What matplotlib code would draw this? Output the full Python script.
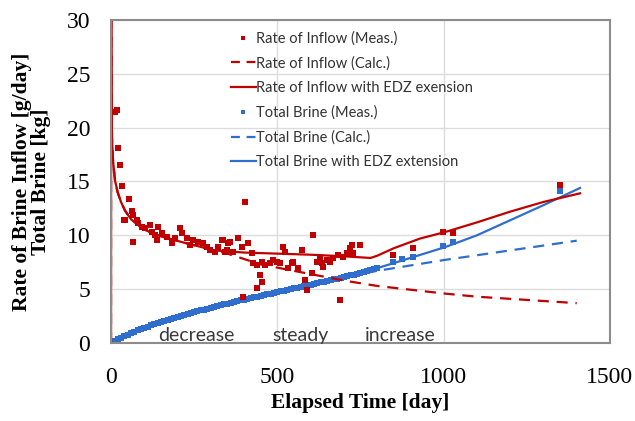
import matplotlib.pyplot as plt
from matplotlib.lines import Line2D

RED = "#C00000"
BLUE = "#2F6ECC"

# measured inflow rate [g/day]
inflow_meas_t = [12, 18, 21, 27, 33, 39, 42, 54, 63, 66, 66, 78, 81, 93, 102, 117,
                 123, 132, 138, 141, 153, 168, 183, 192, 207, 213, 228, 237, 246,
                 261, 276, 289, 298, 313, 322, 334, 337, 343, 349, 352, 358, 367,
                 382, 394, 397, 403, 412, 424, 427, 439, 439, 448, 454, 454, 463,
                 478, 487, 499, 508, 517, 523, 532, 544, 547, 562, 574, 583, 589,
                 604, 607, 619, 628, 634, 637, 649, 658, 667, 682, 688, 697, 709,
                 718, 724, 727, 748, 848, 908, 998, 1028, 1350]
inflow_meas_y = [21.5, 21.6, 18.1, 16.5, 14.6, 11.4, 11.4, 13.4, 12.3, 11.9, 9.4,
                 11.4, 11.1, 10.8, 10.7, 11.0, 10.3, 10.0, 9.6, 10.8, 10.2, 9.85,
                 9.3, 9.75, 10.7, 10.2, 9.75, 9.1, 9.6, 9.4, 9.3, 8.9, 8.6, 8.45,
                 8.9, 9.6, 9.6, 8.45, 8.6, 9.3, 9.4, 8.45, 9.75, 8.9, 4.3, 13.1,
                 9.3, 8.35, 7.4, 7.25, 5.1, 6.3, 7.5, 5.7, 7.25, 7.4, 7.7, 7.5, 7.4,
                 8.9, 8.45, 7.0, 7.4, 7.5, 7.0, 8.6, 5.85, 4.9, 6.5, 10.0, 7.5, 7.9,
                 7.4, 7.05, 7.7, 7.5, 7.9, 8.2, 4.0, 8.0, 8.35, 8.8, 9.1, 8.35, 9.1,
                 8.2, 8.8, 10.3, 10.2, 14.7]

# calculated inflow rate
inflow_calc_t = [0, 0.5, 1, 2, 3, 6, 12, 20, 30, 42, 60, 80, 102, 150, 222, 300,
                 350, 400, 450, 500, 600, 700, 800, 900, 1000, 1100, 1200, 1300, 1400]
inflow_calc_y = [0, 40, 28, 22, 19, 17, 15.1, 14.0, 13.1, 12.3, 11.5, 11.0, 10.5,
                 9.9, 9.3, 8.7, 8.3, 7.8, 7.3, 7.0, 6.4, 5.8, 5.3, 4.95, 4.6, 4.3,
                 4.1, 3.9, 3.7]

# inflow rate with EDZ extension
inflow_edz_t = [0, 0.5, 1, 2, 3, 6, 12, 20, 30, 42, 60, 80, 102, 150, 222, 312,
                400, 500, 600, 700, 780, 800, 850, 929, 1004, 1100, 1200, 1300, 1410]
inflow_edz_y = [0, 40, 28, 22, 19, 17, 15.1, 14.0, 13.1, 12.3, 11.5, 11.0, 10.5,
                9.9, 9.3, 8.6, 8.4, 8.3, 8.2, 8.05, 7.9, 8.1, 8.8, 9.7, 10.3, 11.2,
                12.2, 13.1, 13.9]

# measured total brine [kg], read every ~10 days along the dense band
brine_meas_t = [0, 10, 20, 30, 40, 50, 60, 70, 80, 90, 100, 110, 120, 130, 140,
                150, 160, 170, 180, 190, 200, 210, 220, 230, 240, 250, 260, 270,
                280, 290, 300, 310, 320, 330, 340, 350, 360, 370, 380, 390, 400,
                410, 420, 430, 440, 450, 460, 470, 480, 490, 500, 510, 520, 530,
                540, 550, 560, 570, 580, 590, 600, 610, 620, 630, 640, 650, 660,
                670, 680, 690, 700, 710, 720, 730, 740, 750, 760, 770, 780, 790,
                800, 848, 875, 908, 998, 1028, 1350]
brine_meas_y = [0, 0.18, 0.35, 0.5, 0.65, 0.78, 0.92, 1.05, 1.18, 1.3, 1.42, 1.53,
                1.64, 1.75, 1.85, 1.95, 2.04, 2.13, 2.22, 2.31, 2.4, 2.49, 2.58,
                2.67, 2.76, 2.85, 2.94, 3.02, 3.1, 3.18, 3.26, 3.34, 3.42, 3.5,
                3.58, 3.66, 3.74, 3.81, 3.88, 3.95, 4.02, 4.09, 4.16, 4.23, 4.3,
                4.37, 4.44, 4.51, 4.58, 4.65, 4.72, 4.79, 4.86, 4.93, 5.0, 5.07,
                5.14, 5.21, 5.28, 5.35, 5.42, 5.49, 5.56, 5.63, 5.7, 5.77, 5.84,
                5.91, 5.98, 6.05, 6.12, 6.2, 6.28, 6.36, 6.44, 6.52, 6.6, 6.68,
                6.76, 6.84, 6.92, 7.5, 7.8, 8.0, 9.0, 9.4, 14.1]

brine_calc_t = [0, 30, 66, 100, 168, 250, 350, 498, 600, 700, 800, 900, 1000, 1100,
                1200, 1300, 1400]
brine_calc_y = [0, 0.5, 1.0, 1.45, 2.1, 2.85, 3.66, 4.7, 5.42, 6.12, 6.7, 7.2,
                7.7, 8.15, 8.6, 9.05, 9.5]

brine_edz_t = [0, 30, 66, 100, 168, 250, 350, 498, 600, 700, 800, 869, 1004, 1100,
               1200, 1300, 1410]
brine_edz_y = [0, 0.5, 1.0, 1.42, 2.1, 2.85, 3.66, 4.7, 5.42, 6.12, 6.95, 7.6,
               8.9, 10.0, 11.4, 12.8, 14.4]

labels = ["Rate of Inflow (Meas.)", "Rate of Inflow (Calc.)",
          "Rate of Inflow with EDZ exension", "Total Brine (Meas.)",
          "Total Brine (Calc.)", "Total Brine with EDZ extension"]
phases = ["decrease", "steady", "increase"]
phase_t = [141, 484, 763]

fig = plt.figure(figsize=(6.35, 4.21), dpi=100)
ax = fig.add_axes([0.1748, 0.1853, 0.7858, 0.7672])

ax.grid(True, color="#DCDCDC", lw=1)
ax.set_axisbelow(True)

ax.plot(brine_meas_t, brine_meas_y, "s", color=BLUE, ms=5, mew=0)
ax.plot(brine_calc_t, brine_calc_y, "--", color=BLUE, lw=1.6, dashes=(5, 3.5))
ax.plot(brine_edz_t, brine_edz_y, "-", color=BLUE, lw=1.6)
ax.plot(inflow_meas_t, inflow_meas_y, "s", color=RED, ms=4.2, mew=0)
ax.plot(inflow_calc_t, inflow_calc_y, "--", color=RED, lw=1.6, dashes=(5, 3.5))
ax.plot(inflow_edz_t, inflow_edz_y, "-", color=RED, lw=1.6)

ax.set_xlim(0, 1500)
ax.set_ylim(0, 30)
ax.set_xticks([0, 500, 1000, 1500])
ax.set_yticks(range(0, 31, 5))
ax.tick_params(length=0, labelsize=17)
ax.tick_params(axis="y", pad=15)
ax.tick_params(axis="x", pad=17)
for lbl in ax.get_xticklabels() + ax.get_yticklabels():
    lbl.set_fontfamily("Liberation Serif")
for sp in ax.spines.values():
    sp.set_color("#8C8C8C")
    sp.set_linewidth(1.5)

ax.set_xlabel("Elapsed Time [day]", family="Liberation Serif", fontweight="bold",
              fontsize=15.5, labelpad=4)
ax.set_ylabel("Rate of Brine Inflow [g/day]\nTotal Brine [kg]",
              family="Liberation Serif", fontweight="bold", fontsize=15.5,
              linespacing=0.95, labelpad=11)

for name, t in zip(phases, phase_t):
    ax.text(t, -0.1, name, fontsize=14, color="#3A3A3A", family="Lato",
            ha="left", va="bottom")

handles = [
    Line2D([], [], ls="none", marker="s", ms=3.5, mew=0, color=RED),
    Line2D([], [], ls="--", lw=1.6, dashes=(4, 3), color=RED),
    Line2D([], [], ls="-", lw=1.6, color=RED),
    Line2D([], [], ls="none", marker="s", ms=3.5, mew=0, color=BLUE),
    Line2D([], [], ls="--", lw=1.6, dashes=(4, 3), color=BLUE),
    Line2D([], [], ls="-", lw=1.6, color=BLUE),
]
leg = ax.legend(handles, labels, loc="upper left", bbox_to_anchor=(0.24, 0.965),
                frameon=False, prop={"family": "Lato", "size": 10.5},
                handlelength=1.7, handletextpad=0.05, labelspacing=0.72,
                borderpad=0, borderaxespad=0)
for txt in leg.get_texts():
    txt.set_color("#333333")

fig.savefig("out.png", dpi=100)
